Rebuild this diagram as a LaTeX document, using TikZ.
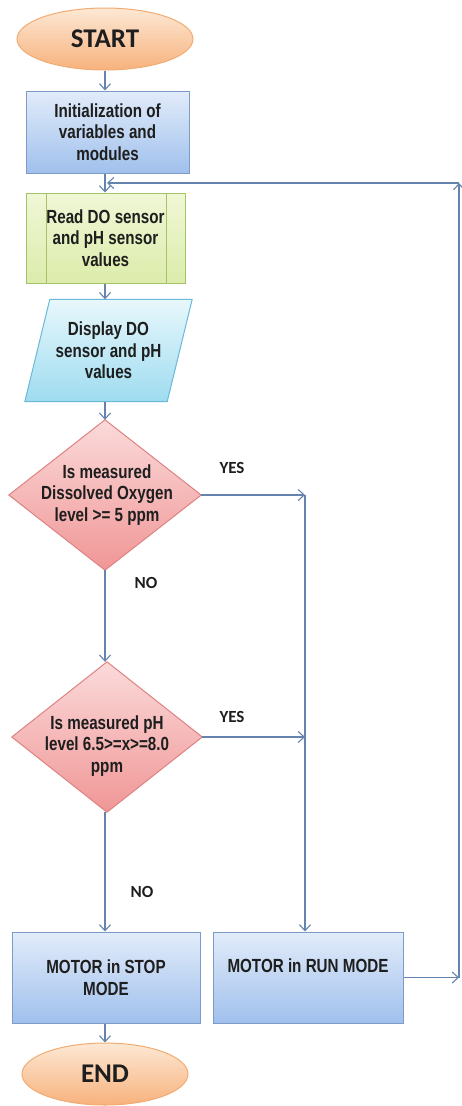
\documentclass[tikz,border=0pt]{standalone}
\usepackage{fontspec}
\setmainfont{Liberation Sans}
\newfontfamily\boxfont[FakeStretch=0.8]{Liberation Sans}
\newfontfamily\calfont{Carlito}
\usetikzlibrary{arrows.meta,shapes.geometric}
\definecolor{ln}{RGB}{100,132,175}
\definecolor{tc}{RGB}{30,30,30}
\definecolor{ort}{RGB}{253,232,212}
\definecolor{orb}{RGB}{247,178,125}
\definecolor{ord}{RGB}{242,172,115}
\definecolor{blt}{RGB}{226,236,250}
\definecolor{blb}{RGB}{160,192,236}
\definecolor{bld}{RGB}{125,155,200}
\definecolor{grt}{RGB}{240,247,215}
\definecolor{grb}{RGB}{220,236,170}
\definecolor{grd}{RGB}{165,195,105}
\definecolor{cyt}{RGB}{232,247,252}
\definecolor{cyb}{RGB}{158,220,240}
\definecolor{cyd}{RGB}{105,185,215}
\definecolor{pkt}{RGB}{251,218,218}
\definecolor{pkb}{RGB}{240,150,150}
\definecolor{pkd}{RGB}{222,130,130}
\begin{document}
\begin{tikzpicture}[x=1pt,y=-1pt,
  conn/.style={draw=ln, line width=1.2pt, -{Straight Barb[length=6pt,width=11pt,line width=1.1pt]}},
  txt/.style={font=\boxfont\bfseries\fontsize{19}{21.5}\selectfont, text=tc, align=center},
  lab/.style={font=\calfont\bfseries\fontsize{17}{20}\selectfont, text=tc},
  term/.style={ellipse, draw=ord, line width=1pt, top color=ort, bottom color=orb, inner sep=0pt,
    minimum width=176pt, minimum height=62pt, font=\calfont\bfseries\fontsize{27}{30}\selectfont, text=tc},
  proc/.style={rectangle, draw=bld, line width=1pt, top color=blt, bottom color=blb, inner sep=0pt, txt},
  readst/.style={rectangle, draw=grd, line width=1pt, top color=grt, bottom color=grb, inner sep=0pt, txt},
  dispst/.style={draw=cyd, line width=1pt, top color=cyt, bottom color=cyb},
  decst/.style={draw=pkd, line width=1pt, top color=pkt, bottom color=pkb},
  frame/.style={rectangle, draw=none, inner sep=0pt}
]
\useasboundingbox (0,0) rectangle (462,1106);

% nodes
\node[term] (start) at (105,39) {START};
\node[proc, minimum width=163pt, minimum height=82pt] (init) at (107.5,132) {Initialization of\\variables and\\modules};
\node[readst, minimum width=159pt, minimum height=90pt] (read) at (105.5,238) {Read DO sensor\\and pH sensor\\values};
\draw[grd, line width=1pt] ([xshift=21pt]read.north west) -- ([xshift=21pt]read.south west)
  ([xshift=-19pt]read.north east) -- ([xshift=-19pt]read.south east);

\node[frame, minimum width=117pt, minimum height=102pt] (disp) at (108.5,350.5) {};
\path[dispst] (disp.north west) -- ([xshift=25pt]disp.north east) -- (disp.south east) -- ([xshift=-25pt]disp.south west) -- cycle;
\node[txt] (disptxt) at (disp.center) {Display DO\\sensor and pH\\values};

\node[frame, minimum width=192pt, minimum height=150pt] (d1) at (105,495) {};
\path[decst] (d1.north) -- (d1.east) -- (d1.south) -- (d1.west) -- cycle;
\node[txt] (d1txt) at (107,495) {Is measured\\Dissolved Oxygen\\level >= 5 ppm};

\node[frame, minimum width=190pt, minimum height=150pt] (d2) at (107,737) {};
\path[decst] (d2.north) -- (d2.east) -- (d2.south) -- (d2.west) -- cycle;
\node[txt] (d2txt) at (107,746) {Is measured pH\\level 6.5>=x>=8.0\\ppm};

\node[proc, minimum width=188pt, minimum height=91pt] (stop) at (106,977.5) {MOTOR in STOP\\MODE};
\node[proc, minimum width=190pt, minimum height=91pt] (run) at (308,977.5) {};
\node[txt] (runtxt) at (308,966) {MOTOR in RUN MODE};

\node[term, minimum width=166pt] (end) at (105,1074) {END};

% labels
\node[lab] (yes1) at (232,468) {YES};
\node[lab] (no1) at (146,583) {NO};
\node[lab] (yes2) at (232,717) {YES};
\node[lab] (no2) at (142,892) {NO};

% helper coordinates
\coordinate (yx) at (305,494);
\coordinate (rx) at (459,979);
\coordinate (rt) at (459,183);
\coordinate (jn) at (107,183);

% connectors
\draw[conn] (start.south) -- (init.north -| start.south);
\draw[conn] (init.south -| start.south) -- (read.north -| start.south);
\draw[conn] (read.south -| start.south) -- (disp.north -| start.south);
\draw[conn] (disp.south -| start.south) -- (d1.north);
\draw[conn] (d1.south) -- (d2.north -| d1.south);
\draw[conn] (d2.south -| d1.south) -- (stop.north -| d1.south);
\draw[conn] (stop.south -| d1.south) -- (end.north);

\draw[conn] (d1.east) -- (d1.east -| yx);
\draw[conn] (d1.east -| yx) -- (run.north -| yx);
\draw[conn] (d2.east) -- (d2.east -| yx);

\draw[conn] (run.east) -- (run.east -| rx);
\draw[conn] (run.east -| rx) -- (rt);
\draw[conn] (rt) -- (jn);
\end{tikzpicture}
\end{document}
